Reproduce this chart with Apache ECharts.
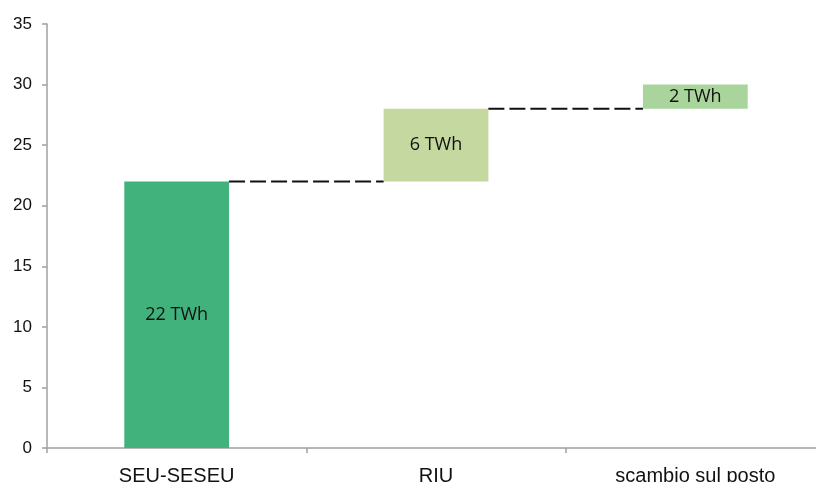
<!DOCTYPE html>
<html>
<head>
<meta charset="utf-8">
<script src="https://cdn.jsdelivr.net/npm/echarts@6/dist/echarts.min.js"></script>
<style>
html,body{margin:0;padding:0;background:#fff}
#wrap{position:relative;width:816px;height:482px;overflow:hidden}
#c{position:absolute;left:0;top:0;width:840px;height:482px}
</style>
</head>
<body>
<div id="wrap"><div id="c"></div></div>
<script>
const categories = ['SEU-SESEU', 'RIU', 'scambio sul posto'];
const values = [22, 6, 2];
const valueLabels = ['22 TWh', '6 TWh', '2 TWh'];
const barColors = ['#42B27D', '#C4D89F', '#A9D59C'];
const yTicks = [0, 5, 10, 15, 20, 25, 30, 35];

const bases = [];
let acc = 0;
values.forEach(v => { bases.push(acc); acc += v; });
const connectors = [];
for (let i = 0; i < values.length - 1; i++) connectors.push([i, bases[i] + values[i]]);

const BAR_FRAC = 0.404;
const chart = echarts.init(document.getElementById('c'), null, {renderer: 'canvas'});
chart.setOption({
  animation: false,
  grid: {left: 47, top: 24, width: 778, height: 424, containLabel: false, outerBoundsMode: 'none'},
  xAxis: {
    type: 'category', data: categories, boundaryGap: true,
    axisLine: {lineStyle: {color: '#A0A0A0', width: 1.5}},
    axisTick: {show: true, length: 5, lineStyle: {color: '#A0A0A0', width: 1.5}},
    axisLabel: {color: '#111', fontFamily: 'Liberation Sans', fontSize: 20, margin: 18}
  },
  yAxis: {
    type: 'value', min: yTicks[0], max: yTicks[yTicks.length - 1], interval: 5,
    splitLine: {show: false},
    axisLine: {show: true, lineStyle: {color: '#A0A0A0', width: 1.5}},
    axisTick: {show: true, length: 5, lineStyle: {color: '#A0A0A0', width: 1.5}},
    axisLabel: {color: '#111', fontFamily: 'Liberation Sans', fontSize: 17, margin: 15, padding: [4, 0, 0, 0]}
  },
  series: [
    {
      type: 'bar', stack: 'w', barWidth: (BAR_FRAC * 100) + '%',
      data: bases, itemStyle: {color: 'transparent'}, silent: true
    },
    {
      type: 'bar', stack: 'w', barWidth: (BAR_FRAC * 100) + '%',
      data: values.map((v, i) => ({value: v, itemStyle: {color: barColors[i]}})),
      label: {
        show: true, position: 'inside', color: '#111',
        fontFamily: 'Open Sans', fontSize: 18,
        formatter: p => valueLabels[p.dataIndex]
      }
    },
    {
      type: 'custom', silent: true, z: 5,
      data: connectors,
      renderItem: function (params, api) {
        const i = api.value(0), v = api.value(1);
        const p1 = api.coord([i, v]);
        const p2 = api.coord([i + 1, v]);
        const half = api.size([1, 0])[0] * BAR_FRAC / 2;
        return {
          type: 'line',
          shape: {x1: p1[0] + half, y1: p1[1], x2: p2[0] - half, y2: p2[1]},
          style: {stroke: '#111', lineWidth: 2, lineDash: [16, 5]}
        };
      }
    }
  ]
});
</script>
</body>
</html>
